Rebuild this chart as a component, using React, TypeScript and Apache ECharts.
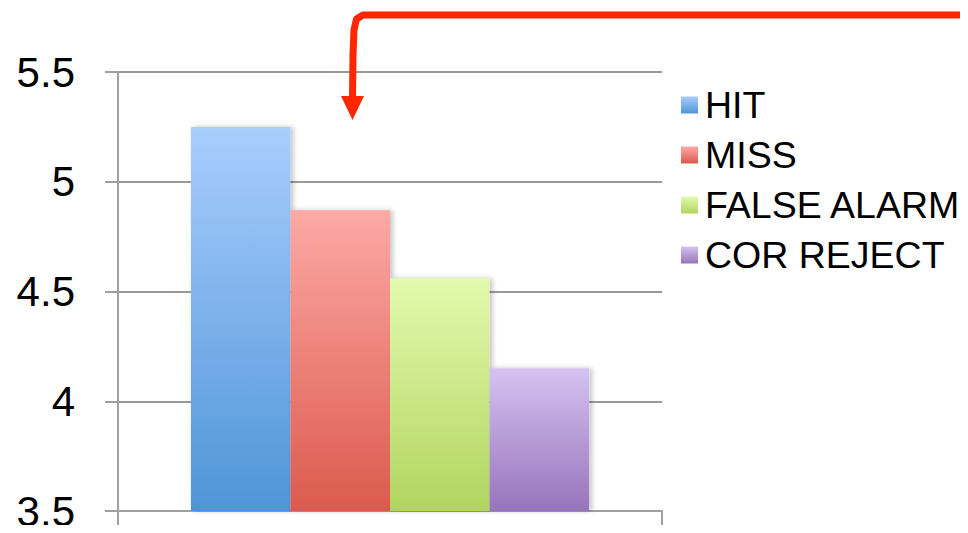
import React, { useEffect, useRef } from "react";
import * as echarts from "echarts";

// Response categories and their mean scores
const categories = ["HIT", "MISS", "FALSE ALARM", "COR REJECT"];
const values = [5.25, 4.87, 4.56, 4.15];
// Gradient colours per category: [top, bottom]
const topColors = ["#a9cdfd", "#fda9a5", "#e1faae", "#d5c2f1"];
const bottomColors = ["#4f95d8", "#dc5a4e", "#b2d560", "#9774bb"];
const yTicks = [3.5, 4, 4.5, 5, 5.5];

const FONT = "'Liberation Sans', Arial, Helvetica, sans-serif";

function grad(i: number) {
  return new echarts.graphic.LinearGradient(0, 0, 0, 1, [
    { offset: 0, color: topColors[i] },
    { offset: 1, color: bottomColors[i] },
  ]);
}

export default function App() {
  const ref = useRef<HTMLDivElement>(null);

  useEffect(() => {
    if (!ref.current) return;
    const chart = echarts.init(ref.current, null, { renderer: "svg" });

    const series = categories.map((name, i) => ({
      name,
      type: "bar",
      data: [values[i]],
      barGap: "0%",
      barCategoryGap: "26.8%",
      itemStyle: {
        color: grad(i),
        shadowColor: "rgba(0,0,0,0.22)",
        shadowBlur: 5,
        shadowOffsetX: 3,
        shadowOffsetY: 0,
      },
    }));

    chart.setOption({
      animation: false,
      backgroundColor: "#ffffff",
      grid: { left: 118, right: 306, top: 72, bottom: 22, containLabel: false },
      legend: {
        orient: "vertical",
        left: 676,
        top: 80,
        itemWidth: 17,
        itemHeight: 17,
        itemGap: 10,
        icon: "rect",
        data: categories.map((name, i) => ({
          name,
          itemStyle: { color: grad(i) },
        })),
        textStyle: {
          fontFamily: FONT,
          fontSize: 37.5,
          lineHeight: 40,
          color: "#000000",
          padding: [0, 0, 0, 2],
        },
      },
      xAxis: {
        type: "category",
        data: [""],
        axisLine: { show: true, lineStyle: { color: "#a0a0a0", width: 2 } },
        axisTick: { show: true, length: 14, lineStyle: { color: "#a0a0a0", width: 2 } },
        axisLabel: { show: false },
        splitLine: { show: false },
      },
      yAxis: {
        type: "value",
        min: yTicks[0],
        max: yTicks[yTicks.length - 1],
        interval: 0.5,
        axisLine: { show: true, lineStyle: { color: "#a0a0a0", width: 2 } },
        axisTick: { show: true, length: 13, lineStyle: { color: "#a0a0a0", width: 2 } },
        axisLabel: {
          margin: 43,
          fontFamily: FONT,
          fontSize: 42,
          lineHeight: 30,
          color: "#000000",
          padding: [4, 0, 0, 0],
          formatter: (v: number) => String(v),
        },
        splitLine: { show: true, lineStyle: { color: "#999999", width: 2 } },
      },
      series,
      graphic: [
        {
          type: "polyline",
          z: 100,
          shape: {
            points: [
              [352.5, 98],
              [353, 55],
              [354, 30],
              [356.5, 19],
              [363, 15],
              [968, 15],
            ],
          },
          style: {
            stroke: "#ff2600",
            lineWidth: 7,
            fill: null,
            lineJoin: "round",
            lineCap: "butt",
          },
        },
        {
          type: "polygon",
          z: 100,
          shape: {
            points: [
              [341, 96],
              [364, 96],
              [352.5, 120],
            ],
          },
          style: { fill: "#ff2600" },
        },
      ],
    });

    return () => chart.dispose();
  }, []);

  return <div ref={ref} style={{ width: 968, height: 533, margin: -8 }} />;
}
